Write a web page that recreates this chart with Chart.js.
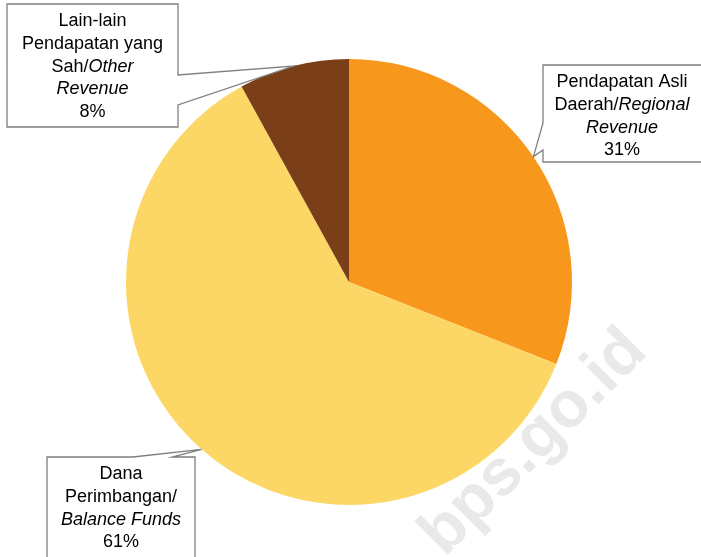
<!DOCTYPE html>
<html>
<head>
<meta charset="utf-8">
<script src="https://cdn.jsdelivr.net/npm/chart.js@4"></script>
<style>
  html, body { margin: 0; padding: 0; background: #fff; }
  #wrap { width: 701px; height: 557px; }
</style>
</head>
<body>
<div id="wrap"><canvas id="pie" width="701" height="557"></canvas></div>
<script>
// Revenue composition (percent)
const labels = ['Pendapatan Asli Daerah/Regional Revenue', 'Dana Perimbangan/Balance Funds', 'Lain-lain Pendapatan yang Sah/Other Revenue'];
const values = [31, 61, 8];
const colors = ['#F7981D', '#FDD766', '#7A3F19'];

// callout label lines: [text, italic]
const labelLines = [
  [[['Pendapatan Asli', false]], [['Daerah/', false], ['Regional', true]], [['Revenue', true]]],
  [[['Dana', false]], [['Perimbangan/', false]], [['Balance Funds', true]]],
  [[['Lain-lain', false]], [['Pendapatan yang', false]], [['Sah/', false], ['Other', true]], [['Revenue', true]]]
];

// callout boxes (x0,y0,x1,y1), tail side and the two base points on that side
const callouts = [
  { box: [543, 65, 704, 162], side: 'left', base: [123, 150] },
  { box: [47, 457, 195, 562], side: 'top', base: [133, 172] },
  { box: [7, 4, 178, 127], side: 'right', base: [75, 105] }
];

const FONT = '"Liberation Sans", Arial, sans-serif';

const watermark = {
  id: 'watermark',
  beforeDatasetsDraw(chart) {
    const ctx = chart.ctx;
    ctx.save();
    ctx.translate(534, 443);
    ctx.rotate(-Math.PI / 4);
    ctx.font = 'bold 65px ' + FONT;
    ctx.fillStyle = '#e9e9e9';
    ctx.textAlign = 'center';
    ctx.textBaseline = 'middle';
    ctx.fillText('bps.go.id', 0, 0);
    ctx.restore();
  }
};

const calloutPlugin = {
  id: 'callouts',
  afterDatasetsDraw(chart) {
    const ctx = chart.ctx;
    const arcs = chart.getDatasetMeta(0).data;
    arcs.forEach((arc, i) => {
      const c = callouts[i];
      const mid = (arc.startAngle + arc.endAngle) / 2;
      const tx = arc.x + Math.cos(mid) * arc.outerRadius;
      const ty = arc.y + Math.sin(mid) * arc.outerRadius;
      const [x0, y0, x1, y1] = c.box;
      const [a, b] = c.base;

      ctx.save();
      ctx.beginPath();
      if (c.side === 'right') {
        ctx.moveTo(x0, y0); ctx.lineTo(x1, y0); ctx.lineTo(x1, a);
        ctx.lineTo(tx, ty); ctx.lineTo(x1, b); ctx.lineTo(x1, y1); ctx.lineTo(x0, y1);
      } else if (c.side === 'left') {
        ctx.moveTo(x0, y0); ctx.lineTo(x1, y0); ctx.lineTo(x1, y1); ctx.lineTo(x0, y1);
        ctx.lineTo(x0, b); ctx.lineTo(tx, ty); ctx.lineTo(x0, a);
      } else {
        ctx.moveTo(x0, y0); ctx.lineTo(a, y0); ctx.lineTo(tx, ty); ctx.lineTo(b, y0);
        ctx.lineTo(x1, y0); ctx.lineTo(x1, y1); ctx.lineTo(x0, y1);
      }
      ctx.closePath();
      ctx.fillStyle = '#ffffff';
      ctx.fill();
      ctx.lineWidth = 1.3;
      ctx.strokeStyle = '#7f7f7f';
      ctx.stroke();

      // text
      const lines = labelLines[i].concat([[[values[i] + '%', false]]]);
      const cx = (x0 + Math.min(x1, 701)) / 2;
      ctx.fillStyle = '#000';
      ctx.textBaseline = 'middle';
      ctx.textAlign = 'left';
      lines.forEach((segs, k) => {
        const y = y0 + 17 + k * 22.8;
        let w = 0;
        segs.forEach(s => {
          ctx.font = (s[1] ? 'italic ' : '') + '18px ' + FONT;
          w += ctx.measureText(s[0]).width;
        });
        let x = cx - w / 2;
        segs.forEach(s => {
          ctx.font = (s[1] ? 'italic ' : '') + '18px ' + FONT;
          ctx.fillText(s[0], x, y);
          x += ctx.measureText(s[0]).width;
        });
      });
      ctx.restore();
    });
  }
};

new Chart(document.getElementById('pie'), {
  type: 'pie',
  data: {
    labels: labels,
    datasets: [{
      data: values,
      backgroundColor: colors,
      borderWidth: 0
    }]
  },
  options: {
    responsive: false,
    animation: false,
    layout: { padding: { left: 126, right: 129, top: 59, bottom: 52 } },
    plugins: {
      legend: { display: false },
      tooltip: { enabled: false }
    }
  },
  plugins: [watermark, calloutPlugin]
});
</script>
</body>
</html>
